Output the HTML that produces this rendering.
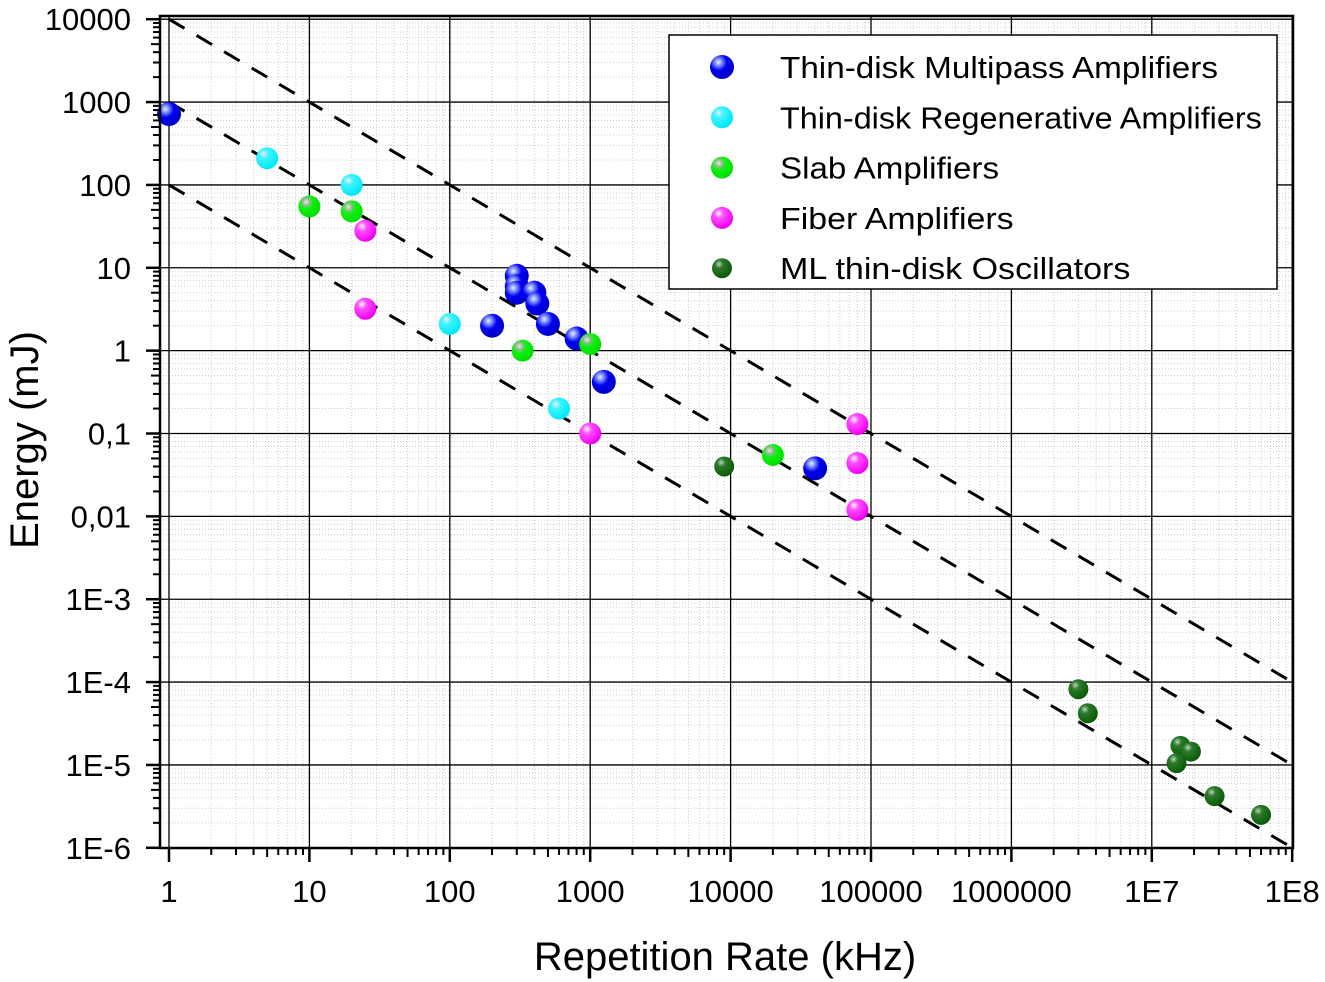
<!DOCTYPE html>
<html><head><meta charset="utf-8"><style>
body{margin:0;background:#fff;}
svg{display:block;font-family:"Liberation Sans",Arial,sans-serif;}
</style></head><body>
<svg id="chart" width="1325" height="982" viewBox="0 0 1325 982">
<defs>
<radialGradient id="gblue" cx="0.35" cy="0.3" r="0.7"><stop offset="0" stop-color="#e8f0ff"/><stop offset="0.25" stop-color="#6a7cff"/><stop offset="0.5" stop-color="#0000ee"/><stop offset="1" stop-color="#0000c8"/></radialGradient>
<radialGradient id="gcyan" cx="0.35" cy="0.3" r="0.7"><stop offset="0" stop-color="#eef"/><stop offset="0.3" stop-color="#40f4ff"/><stop offset="1" stop-color="#00e8f8"/></radialGradient>
<radialGradient id="ggreen" cx="0.35" cy="0.3" r="0.7"><stop offset="0" stop-color="#f0e0f0"/><stop offset="0.25" stop-color="#80c080"/><stop offset="0.45" stop-color="#10f010"/><stop offset="1" stop-color="#00e000"/></radialGradient>
<radialGradient id="gmag" cx="0.35" cy="0.3" r="0.7"><stop offset="0" stop-color="#fff"/><stop offset="0.3" stop-color="#ff50ff"/><stop offset="1" stop-color="#f000f0"/></radialGradient>
<radialGradient id="gdark" cx="0.35" cy="0.3" r="0.7"><stop offset="0" stop-color="#c0d0c0"/><stop offset="0.3" stop-color="#2a7a2a"/><stop offset="1" stop-color="#0a5a0a"/></radialGradient>
</defs>
<g id="grid"></g>
<g id="guides"></g>
<g id="marks"></g>
<g id="axes"></g>
<text x="0" y="0" transform="translate(38,440) rotate(-90)" text-anchor="middle" font-size="40">Energy (mJ)</text>
<text x="725" y="970" text-anchor="middle" font-size="40">Repetition Rate (kHz)</text>
<g id="legend"></g>
</svg>
<script>
const xTickLabels=["1","10","100","1000","10000","100000","1000000","1E7","1E8"];
const yTickLabels=["10000","1000","100","10","1","0,1","0,01","1E-3","1E-4","1E-5","1E-6"];
const seriesNames=["Thin-disk Multipass Amplifiers","Thin-disk Regenerative Amplifiers","Slab Amplifiers","Fiber Amplifiers","ML thin-disk Oscillators"];
const multipassX=[1,300,300,300,400,420,200,500,800,1250,40000];
const multipassY=[718,8,6,5,5,3.7,2,2.1,1.4,0.42,0.038];
const regenX=[5,20,100,600];
const regenY=[210,100,2.1,0.2];
const slabX=[10,20,330,1000,20000];
const slabY=[55,48,1.0,1.2,0.055];
const fiberX=[25,25,1000,80000,80000,80000];
const fiberY=[28,3.2,0.1,0.13,0.044,0.012];
const oscX=[9000,3e6,3.5e6,1.6e7,1.9e7,1.5e7,2.8e7,6e7];
const oscY=[0.04,8.2e-5,4.2e-5,1.7e-5,1.45e-5,1.05e-5,4.2e-6,2.5e-6];
const guideConstants=[10000,1000,100];

const NS="http://www.w3.org/2000/svg";
const X0=169,XD=140.4,Y0=19.2,YD=82.86;
const LEFT=160,TOP=16,RIGHT=1293,BOTTOM=848;
function sx(v){return X0+Math.log10(v)*XD;}
function sy(v){return Y0+(4-Math.log10(v))*YD;}
function mk(tag,attrs,parent){const e=document.createElementNS(NS,tag);for(const k in attrs)e.setAttribute(k,attrs[k]);parent.appendChild(e);return e;}
const grid=document.getElementById('grid'),axes=document.getElementById('axes'),guides=document.getElementById('guides'),marks=document.getElementById('marks'),legend=document.getElementById('legend');

for(let d=0;d<8;d++)for(let m=2;m<10;m++){const x=sx(Math.pow(10,d)*m);
 const l=mk('line',{x1:x,x2:x,y1:TOP,y2:BOTTOM,stroke:'#ccc','stroke-width':1,'stroke-dasharray':'1 2'},grid);
 
 
 const t=mk('line',{x1:x,x2:x,y1:BOTTOM,y2:BOTTOM+(m==5?9:7),stroke:'#000','stroke-width':2},axes);
 
 }
for(let d=-6;d<4;d++)for(let m=2;m<10;m++){const y=sy(Math.pow(10,d)*m);
 const l=mk('line',{x1:LEFT,x2:RIGHT,y1:y,y2:y,stroke:'#ccc','stroke-width':1,'stroke-dasharray':'1 2'},grid);
 
 
 const t=mk('line',{x1:LEFT-(m==5?9:7),x2:LEFT,y1:y,y2:y,stroke:'#000','stroke-width':2},axes);
 
 }
xTickLabels.forEach((lab,i)=>{const x=sx(Math.pow(10,i));
 const g=mk('line',{x1:x,x2:x,y1:TOP,y2:BOTTOM,stroke:'#000','stroke-width':1.3},grid);
 
 
 const t=mk('line',{x1:x,x2:x,y1:BOTTOM,y2:BOTTOM+14,stroke:'#000','stroke-width':2.5},axes);
 
 
 const tx=mk('text',{x:x,y:902,'text-anchor':'middle','font-size':31},axes);tx.textContent=lab;
 
 });
yTickLabels.forEach((lab,i)=>{const y=sy(Math.pow(10,4-i));
 const g=mk('line',{x1:LEFT,x2:RIGHT,y1:y,y2:y,stroke:'#000','stroke-width':1.3},grid);
 
 
 const t=mk('line',{x1:LEFT-14,x2:LEFT,y1:y,y2:y,stroke:'#000','stroke-width':2.5},axes);
 
 
 const tx=mk('text',{x:131,y:y+11,'text-anchor':'end','font-size':31},axes);tx.textContent=lab;
 
 });
const fr=mk('rect',{x:LEFT,y:TOP,width:RIGHT-LEFT,height:BOTTOM-TOP,fill:'none',stroke:'#000','stroke-width':2.5},axes);


guideConstants.forEach(c=>{const l=mk('line',{x1:sx(1),y1:sy(c),x2:sx(1e8),y2:sy(c/1e8),stroke:'#000','stroke-width':3,'stroke-dasharray':'18 14'},guides);
 
 });
const series=[[multipassX,multipassY,'gblue','multipass',12],[regenX,regenY,'gcyan','regenerative',11],[slabX,slabY,'ggreen','slab',11],[fiberX,fiberY,'gmag','fiber',11],[oscX,oscY,'gdark','oscillator',10]];
series.forEach(s=>{s[0].forEach((xv,i)=>{const c=mk('circle',{cx:sx(xv),cy:sy(s[1][i]),r:s[4],fill:'url(#'+s[2]+')'},marks);
 
 });});
const lb=mk('rect',{x:669,y:35,width:608,height:254,fill:'#fff',stroke:'#000','stroke-width':1.5},legend);


seriesNames.forEach((n,i)=>{const y=67+i*50.3;
 const c=mk('circle',{cx:722,cy:y,r:series[i][4],fill:'url(#'+series[i][2]+')'},legend);
 
 
 const t=mk('text',{x:780,y:y+11,'font-size':31,textLength:n.length*14.6,lengthAdjust:'spacingAndGlyphs'},legend);t.textContent=n;
 
 });
</script>
</body></html>
